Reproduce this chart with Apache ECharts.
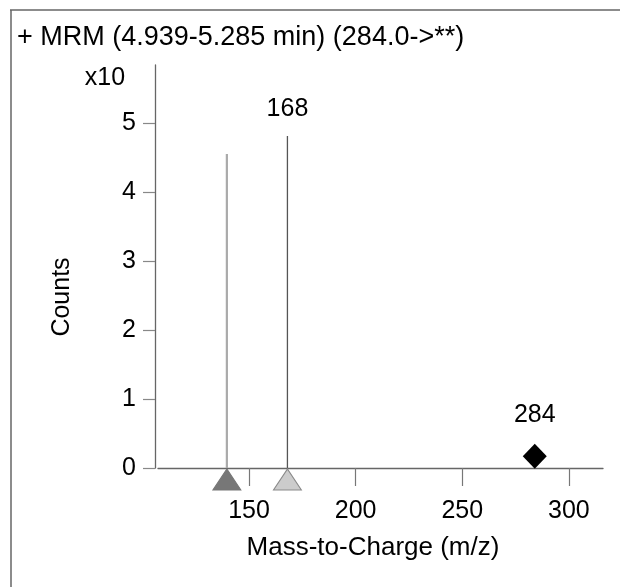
<!DOCTYPE html>
<html>
<head>
<meta charset="utf-8">
<title>MRM spectrum</title>
<script src="https://cdn.jsdelivr.net/npm/echarts@6/dist/echarts.min.js"></script>
<style>
  html, body { margin: 0; padding: 0; background: #fff; }
  #chart { width: 620px; height: 587px; }
</style>
</head>
<body>
<div id="chart"></div>
<script>
// 数据
const titleText = '+ MRM (4.939-5.285 min) (284.0->**)'
const xTicks = [150, 200, 250, 300]
const yTicks = [0, 1, 2, 3, 4, 5]
// 碎片离子峰 (m/z, counts x10)
const peakMz = [139.6, 168]
const peakCounts = [4.55, 4.81]
const peakLabels = ['', '168']
// 母离子
const precursorMz = [284]
const precursorCounts = [0.17]
const precursorLabels = ['284']

const font = 'Liberation Sans, Arial, sans-serif'
const textColor = '#000'

let myChart = echarts.init(document.getElementById('chart'))

// 竖线
let stickSeries = peakMz.map((mz, i) => {
  return {
    type: 'line',
    data: [[mz, 0], [mz, peakCounts[i]]],
    showSymbol: false,
    silent: true,
    lineStyle: {
      color: i === 0 ? '#aaaaaa' : '#555555',
      width: i === 0 ? 2.2 : 1.3
    },
    z: 2
  }
})

// 峰标签
let labelSeries = {
  type: 'scatter',
  symbolSize: 1,
  itemStyle: { color: 'transparent', opacity: 1 },
  data: peakMz.map((mz, i) => ({ value: [mz, peakCounts[i]], name: peakLabels[i] })),
  label: {
    show: true,
    position: 'top',
    distance: 14,
    formatter: p => p.name,
    fontFamily: font,
    fontSize: 25,
    color: textColor
  }
}

// 三角形标记 (在x轴下方)
let triangleSeries = {
  type: 'scatter',
  symbol: 'triangle',
  symbolSize: [28, 21],
  symbolOffset: [0, 11.5],
  clip: false,
  z: 5,
  data: peakMz.map((mz, i) => ({
    value: [mz, 0],
    itemStyle: i === 0
      ? { color: '#777777', borderColor: '#777777', borderWidth: 1, opacity: 1 }
      : { color: '#cccccc', borderColor: '#8a8a8a', borderWidth: 1, opacity: 1 }
  }))
}

// 菱形 母离子
let diamondSeries = {
  type: 'scatter',
  symbol: 'diamond',
  symbolSize: [24, 25],
  clip: false,
  z: 5,
  itemStyle: { color: '#000', opacity: 1 },
  data: precursorMz.map((mz, i) => ({ value: [mz, precursorCounts[i]], name: precursorLabels[i] })),
  label: {
    show: true,
    position: 'top',
    distance: 16,
    formatter: p => p.name,
    fontFamily: font,
    fontSize: 25,
    color: textColor
  }
}

let option = {
  animation: false,
  textStyle: { fontFamily: font },
  grid: {
    left: 158,
    right: 17,
    top: 65,
    bottom: 119
  },
  xAxis: {
    type: 'value',
    min: 107.3,
    max: 316,
    offset: 4,
    axisLine: { show: true, lineStyle: { color: '#666', width: 1.3 } },
    axisTick: {
      show: true,
      length: 18,
      customValues: xTicks,
      lineStyle: { color: '#777', width: 1.2 }
    },
    axisLabel: {
      customValues: xTicks,
      margin: 27,
      fontSize: 25,
      color: textColor,
      fontFamily: font
    },
    splitLine: { show: false }
  },
  yAxis: {
    type: 'value',
    min: 0,
    max: 5.84,
    offset: 3,
    axisLine: { show: true, lineStyle: { color: '#666', width: 1.3 } },
    axisTick: {
      show: true,
      length: 12,
      customValues: yTicks,
      lineStyle: { color: '#888', width: 1.2 }
    },
    axisLabel: {
      customValues: yTicks,
      margin: 19,
      fontSize: 25,
      color: textColor,
      fontFamily: font
    },
    splitLine: { show: false }
  },
  graphic: [
    // 外框 (上、左)
    { type: 'line', shape: { x1: 10, y1: 10, x2: 620, y2: 10 }, style: { stroke: '#666', lineWidth: 1.5 } },
    { type: 'line', shape: { x1: 11, y1: 10, x2: 11, y2: 587 }, style: { stroke: '#666', lineWidth: 1.5 } },
    {
      type: 'text', left: 17, top: 24,
      style: { text: titleText, font: '27px ' + font, fill: textColor }
    },
    {
      type: 'text', x: 105, y: 78,
      style: { text: 'x10', font: '25px ' + font, fill: textColor, align: 'center', verticalAlign: 'middle' }
    },
    {
      type: 'text', x: 62, y: 297, rotation: Math.PI / 2,
      style: { text: 'Counts', font: '25px ' + font, fill: textColor, align: 'center', verticalAlign: 'middle' }
    },
    {
      type: 'text', x: 373, y: 548,
      style: { text: 'Mass-to-Charge (m/z)', font: '26px ' + font, fill: textColor, align: 'center', verticalAlign: 'middle' }
    }
  ],
  series: [...stickSeries, labelSeries, triangleSeries, diamondSeries]
}

myChart.setOption(option)
window.addEventListener('resize', () => { myChart.resize() })
</script>
</body>
</html>
